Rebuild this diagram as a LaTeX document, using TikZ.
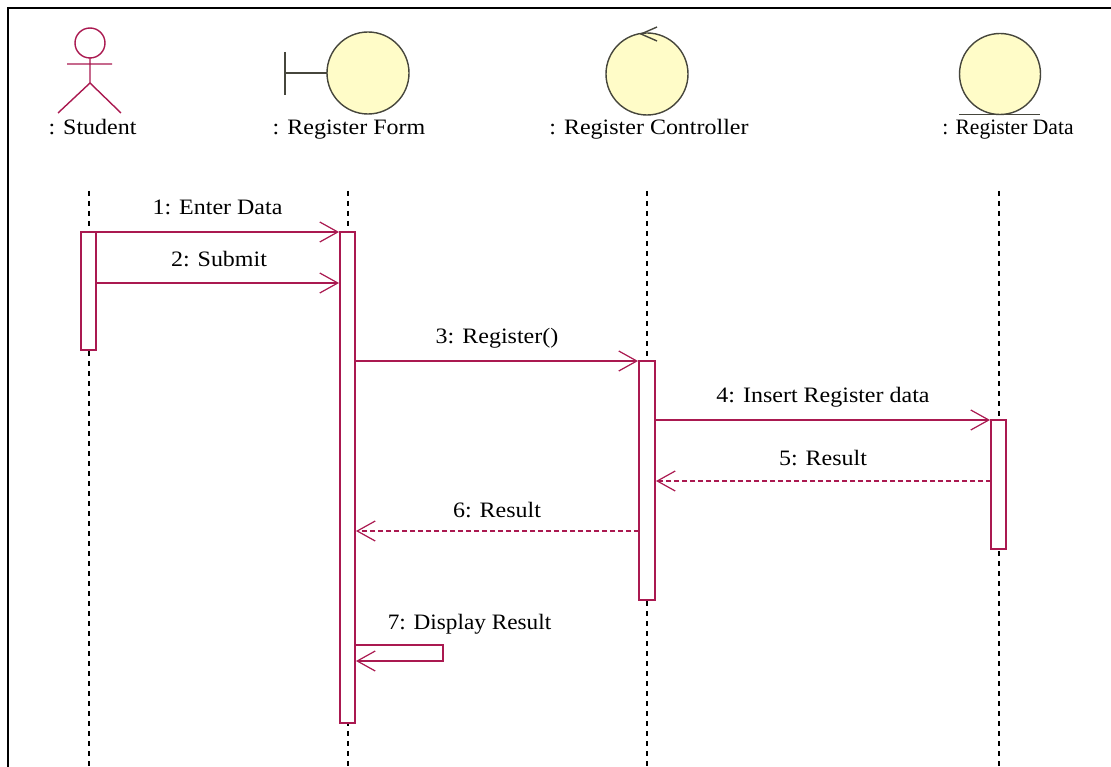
\documentclass[tikz,border=0pt]{standalone}
\usepackage{fontspec}
\setmainfont[FakeStretch=1.09]{Liberation Serif}
\usetikzlibrary{arrows.meta}
\definecolor{seqred}{RGB}{170,25,80}
\definecolor{objfill}{RGB}{255,252,200}
\definecolor{objline}{RGB}{70,70,60}
\tikzset{
  objball/.style={draw=objline,fill=objfill,line width=1.4pt},
  objmark/.style={draw=objline,line width=1.4pt},
  lifeline/.style={draw=black,line width=1.2pt,dash pattern=on 5pt off 5pt},
  actbox/.style={draw=seqred,fill=white,line width=1.4pt},
  msg/.style={draw=seqred,line width=1.4pt,-{Straight Barb[length=18pt,width=20pt,line width=1.2pt]}},
  retmsg/.style={msg,dash pattern=on 5pt off 3pt},
  lbl/.style={font=\fontsize{22}{24}\selectfont,inner sep=0pt,anchor=base}
}

\begin{document}
\begin{tikzpicture}[x=1pt,y=-1pt]
    \useasboundingbox (0,0) rectangle (1111,767);
    \fill[white] (0,0) rectangle (1111,767);

    % Draw the frame
    \draw[line width=2.5pt] (8,767) -- (8,8) -- (1111,8);

    % Draw the actor
    \draw[draw=seqred,line width=1.4pt] (90,43) circle (15);
    \draw[draw=seqred,line width=1.4pt] (90,58) -- (90,83) (67,64) -- (112,64)
        (58,113) -- (90,83) -- (121,113);
    \node[lbl] (student) at (92.5,135) {: Student};

    % Draw the boundary
    \draw[objmark] (285,52) -- (285,95) (285,73) -- (327,73);
    \draw[objball] (368,73) circle (41);
    \node[lbl] (form) at (349,135) {: Register Form};

    % Draw the controller
    \draw[objball] (647,74) circle (41);
    \draw[objmark] (657,27) -- (641,34) -- (657,41);
    \node[lbl] (controller) at (649,135) {: Register Controller};

    % Draw the entity
    \draw[objball] (1000,74) circle (40.5);
    \draw[objmark] (959,114.5) -- (1040,114.5);
    \node[lbl,transform shape,xscale=.9] (data) at (1008,135) {: Register Data};

    % Lifelines
    \coordinate (lineA) at (89,191);
    \coordinate (lineB) at (348,191);
    \coordinate (lineC) at (647,191);
    \coordinate (lineD) at (999,191);
    \coordinate (endA) at (89,767);
    \coordinate (endB) at (348,767);
    \coordinate (endC) at (647,767);
    \coordinate (endD) at (999,767);
    \draw[lifeline] (lineA) -- (endA);
    \draw[lifeline] (lineB) -- (endB);
    \draw[lifeline] (lineC) -- (endC);
    \draw[lifeline] (lineD) -- (endD);

    % Activation boxes
    \draw[actbox] (81,232) rectangle (96,350);
    \draw[actbox] (340,232) rectangle (355,723);
    \draw[actbox] (639,361) rectangle (655,600);
    \draw[actbox] (991,420) rectangle (1006,549);

    % Messages
    \draw[msg] (96,232) -- (339,232);
    \node[lbl] (m1) at (217.5,215) {1: Enter Data};
    \draw[msg] (96,283) -- (339,283);
    \node[lbl] (m2) at (219,267) {2: Submit};
    \draw[msg] (355,361) -- (638,361);
    \node[lbl] (m3) at (497,344) {3: Register()};
    \draw[msg] (655,420) -- (990,420);
    \node[lbl] (m4) at (823,402) {4: Insert Register data};
    \draw[retmsg] (991,481) -- (656,481);
    \node[lbl] (m5) at (823,465) {5: Result};
    \draw[retmsg] (639,531) -- (356,531);
    \node[lbl] (m6) at (497,517) {6: Result};
    \draw[msg] (356,645) -- (443,645) -- (443,661) -- (356,661);
    \node[lbl,transform shape,xscale=.97] (m7) at (469.5,629) {7: Display Result};

\end{tikzpicture}
\end{document}
